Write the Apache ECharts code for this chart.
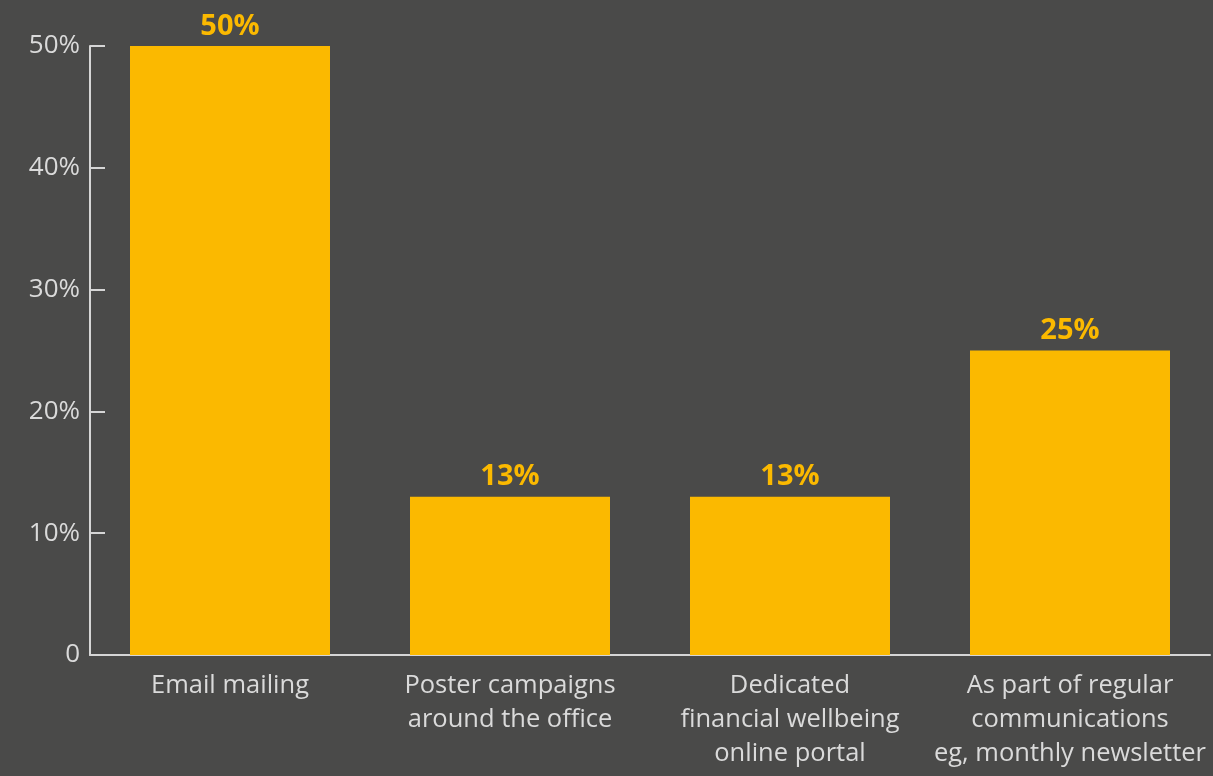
<!DOCTYPE html>
<html>
<head>
<meta charset="utf-8">
<script src="https://cdn.jsdelivr.net/npm/echarts@6/dist/echarts.min.js"></script>
<style>
  html, body { margin: 0; padding: 0; background: #4a4a49; }
  #chart { width: 1213px; height: 776px; }
</style>
</head>
<body>
<div id="chart"></div>
<script>
// Communication channels and the share of respondents using each
const categories = [
  'Email mailing',
  'Poster campaigns\naround the office',
  'Dedicated\nfinancial wellbeing\nonline portal',
  'As part of regular\ncommunications\neg, monthly newsletter'
];
const shares = [50, 13, 13, 25];
const yTicks = [0, 10, 20, 30, 40, 50];

const axisColor = '#d6d6d6';
const textColor = '#dadada';
const barColor = '#fbb900';
const fontFamily = '"Open Sans", "Lato", sans-serif';

const chart = echarts.init(document.getElementById('chart'));
chart.setOption({
  backgroundColor: '#4a4a49',
  animation: false,
  grid: { left: 90, right: 3, top: 46, bottom: 121, containLabel: false },
  xAxis: {
    type: 'category',
    data: categories,
    axisLine: { lineStyle: { color: axisColor, width: 2 } },
    axisTick: { inside: true, length: 14, lineStyle: { color: axisColor, width: 2 } },
    axisLabel: {
      color: textColor, fontFamily, fontSize: 25.5, lineHeight: 34, margin: 14,
      interval: 0
    }
  },
  yAxis: {
    type: 'value',
    min: yTicks[0],
    max: yTicks[yTicks.length - 1],
    interval: 10,
    splitLine: { show: false },
    axisLine: { show: true, lineStyle: { color: axisColor, width: 2 } },
    axisTick: { show: true, inside: true, length: 15, lineStyle: { color: axisColor, width: 2 } },
    axisLabel: {
      color: textColor, fontFamily, fontSize: 26, margin: 10,
      formatter: v => (v === 0 ? '0' : v + '%')
    }
  },
  series: [{
    type: 'bar',
    data: shares,
    barWidth: 200,
    itemStyle: { color: barColor },
    label: {
      show: true,
      position: 'top',
      distance: 5,
      color: barColor,
      fontFamily,
      fontWeight: 'bold',
      fontSize: 29,
      formatter: p => p.value + '%'
    }
  }]
});
</script>
</body>
</html>
